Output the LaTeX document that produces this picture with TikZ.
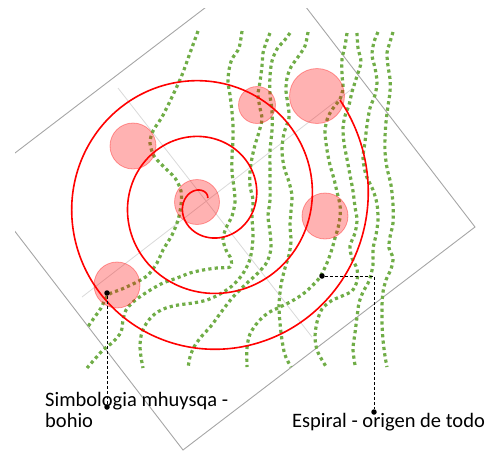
\documentclass[tikz,border=0pt]{standalone}
\usepackage{fontspec}
\setmainfont{Carlito}
\definecolor{rainGreen}{HTML}{70AD47}
\definecolor{frameGray}{HTML}{A6A6A6}
\definecolor{crossGray}{HTML}{D9D9D9}
\begin{document}
\begin{tikzpicture}[x = 1pt, y = -1pt,
    rainLine/.style = {rainGreen, line width = 3.2pt, dash pattern = on 3.2pt off 3.2pt},
    spiralLine/.style = {red, line width = 1.6pt},
    bohio/.style = {fill = red, fill opacity = 0.3, draw = red, draw opacity = 0.35, line width = 0.8pt},
    leader/.style = {black, line width = 0.9pt, dash pattern = on 3pt off 2pt},
    pinDot/.style = {circle, fill = black, inner sep = 0pt, minimum size = 5.5pt},
    noteText/.style = {inner sep = 0pt, align = left, font = \fontsize{20.5}{21}\selectfont}]

    \useasboundingbox (0, 0) rectangle (496, 451);

    % spiral params
    \def\spiralX{206};
    \def\spiralY{201};
    \def\spiralA{50};
    \def\spiralB{0.1556};

    %% draw frame
    \begin{scope}
        \clip (15, 8) rectangle (496, 451);
        \draw[frameGray, line width = 0.9pt] (-23, 182) -- (269, -41) -- (475, 227) -- (183, 450) -- cycle;
    \end{scope}

    % draw cross
    \draw[crossGray, line width = 0.8pt] (118, 88) -- (312, 337);

    \draw[crossGray, line width = 0.8pt] (82, 297) -- (353, 88);

    % draw rain lines
    \draw[rainLine] plot[smooth] coordinates {(198,31) (190,53) (182,75) (172,97) (162,117) (153,131) (150,143) (154,156) (164,167) (175,178) (181,191) (181,205) (178,220) (172,235) (163,250) (157,263) (148,275) (137,282) (122,289) (108,295) (101,308) (94,318) (87,328)};

    \draw[rainLine] plot[smooth] coordinates {(242,31) (239,48) (232,59) (229,70) (228,82) (230,95) (232,112) (233,126) (233,140) (232,156) (232,172) (234,188) (235,202) (232,216) (226,228) (223,239) (226,250) (231,259) (230,267) (217,268) (203,270) (190,273) (177,278) (163,283) (152,289) (141,296) (132,303) (126,310) (123,320) (121,332) (113,342) (103,350) (94,360) (87,368)};

    \draw[rainLine] plot[smooth] coordinates {(270,33) (266,43) (263,53) (262,66) (260,82) (258,95) (260,108) (262,119) (259,132) (255,145) (252,158) (250,172) (250,186) (253,200) (252,217) (253,233) (252,249) (249,262) (242,275) (232,286) (220,294) (207,300) (193,303) (178,305) (166,308) (156,313) (148,321) (142,332) (140,345) (141,357) (143,368)};

    \draw[rainLine] plot[smooth] coordinates {(290,33) (284,41) (277,49) (272,61) (270,76) (270,95) (272,111) (272,130) (270,151) (270,175) (270,200) (268,216) (270,232) (271,248) (267,262) (258,273) (246,284) (233,297) (222,311) (211,326) (201,337) (194,347) (190,357) (188,368)};

    \draw[rainLine] plot[smooth] coordinates {(308,32) (305,46) (298,57) (291,67) (287,78) (286,91) (288,105) (289,118) (284,133) (282,150) (284,167) (289,182) (292,196) (291,211) (290,226) (291,241) (289,255) (285,268) (281,285) (279,305) (280,323) (282,340) (285,355) (291,367)};

    \draw[rainLine] plot[smooth] coordinates {(347,33) (345,46) (342,59) (342,75) (343,88) (340,99) (334,107) (328,117) (325,131) (327,150) (330,165) (334,179) (337,192) (340,205) (340,217) (338,228) (335,238) (332,249) (327,263) (320,277) (312,286) (303,294) (292,301) (280,307) (268,313) (258,322) (250,334) (247,348) (247,367)};

    \draw[rainLine] plot[smooth] coordinates {(357,33) (358,48) (361,62) (357,76) (352,92) (349,105) (345,116) (343,128) (344,143) (347,159) (350,175) (353,191) (355,207) (357,220) (355,233) (350,246) (352,258) (357,269) (357,281) (352,291) (342,296) (331,301) (322,309) (317,322) (315,337) (317,350) (322,360) (327,368)};

    \draw[rainLine] plot[smooth] coordinates {(378,32) (374,42) (372,55) (375,68) (377,82) (375,95) (370,108) (367,125) (365,142) (363,158) (366,175) (373,190) (377,204) (378,220) (376,235) (373,249) (373,265) (369,281) (363,292) (359,303) (357,317) (355,333) (353,349) (355,365)};

    \draw[rainLine] plot[smooth] coordinates {(393,32) (390,42) (387,53) (388,66) (390,79) (390,92) (388,106) (386,122) (385,137) (385,152) (387,168) (391,185) (393,205) (393,223) (390,237) (389,248) (393,258) (391,269) (386,280) (383,292) (382,306) (382,323) (383,340) (385,356) (387,367)};

    %% draw spiral
    \draw[spiralLine, domain = -300:757, smooth, samples = 420, variable = \t] plot ({\spiralX + (\spiralA + \spiralB*\t)*cos(\t)}, {\spiralY - (\spiralA + \spiralB*\t)*sin(\t)});

    % draw bohios
    \draw[bohio] (133, 146) circle (23);

    \draw[bohio] (197, 202) circle (22.5);

    \draw[bohio] (257, 105) circle (18.5);

    \draw[bohio] (317, 96) circle (27.5);

    \draw[bohio] (325, 216) circle (23);

    \draw[bohio] (117, 285) circle (23);

    % draw notes
    \node[pinDot] (bohioDot) at (107, 293) {};
    \node[pinDot] (bohioEnd) at (107, 407) {};
    \node[noteText, anchor = base west] (bohioText) at (45, 427) {Simbologia mhuysqa -\\bohio};

    \node[pinDot] (spiralDot) at (322, 276) {};
    \node[pinDot] (spiralEnd) at (374, 412) {};
    \node[noteText, anchor = base west] (spiralText) at (292, 427) {Espiral - origen de todo};

    \draw[leader] (bohioDot) -- (bohioEnd);

    \draw[leader] (spiralDot) -| (spiralEnd);

\end{tikzpicture}
\end{document}
